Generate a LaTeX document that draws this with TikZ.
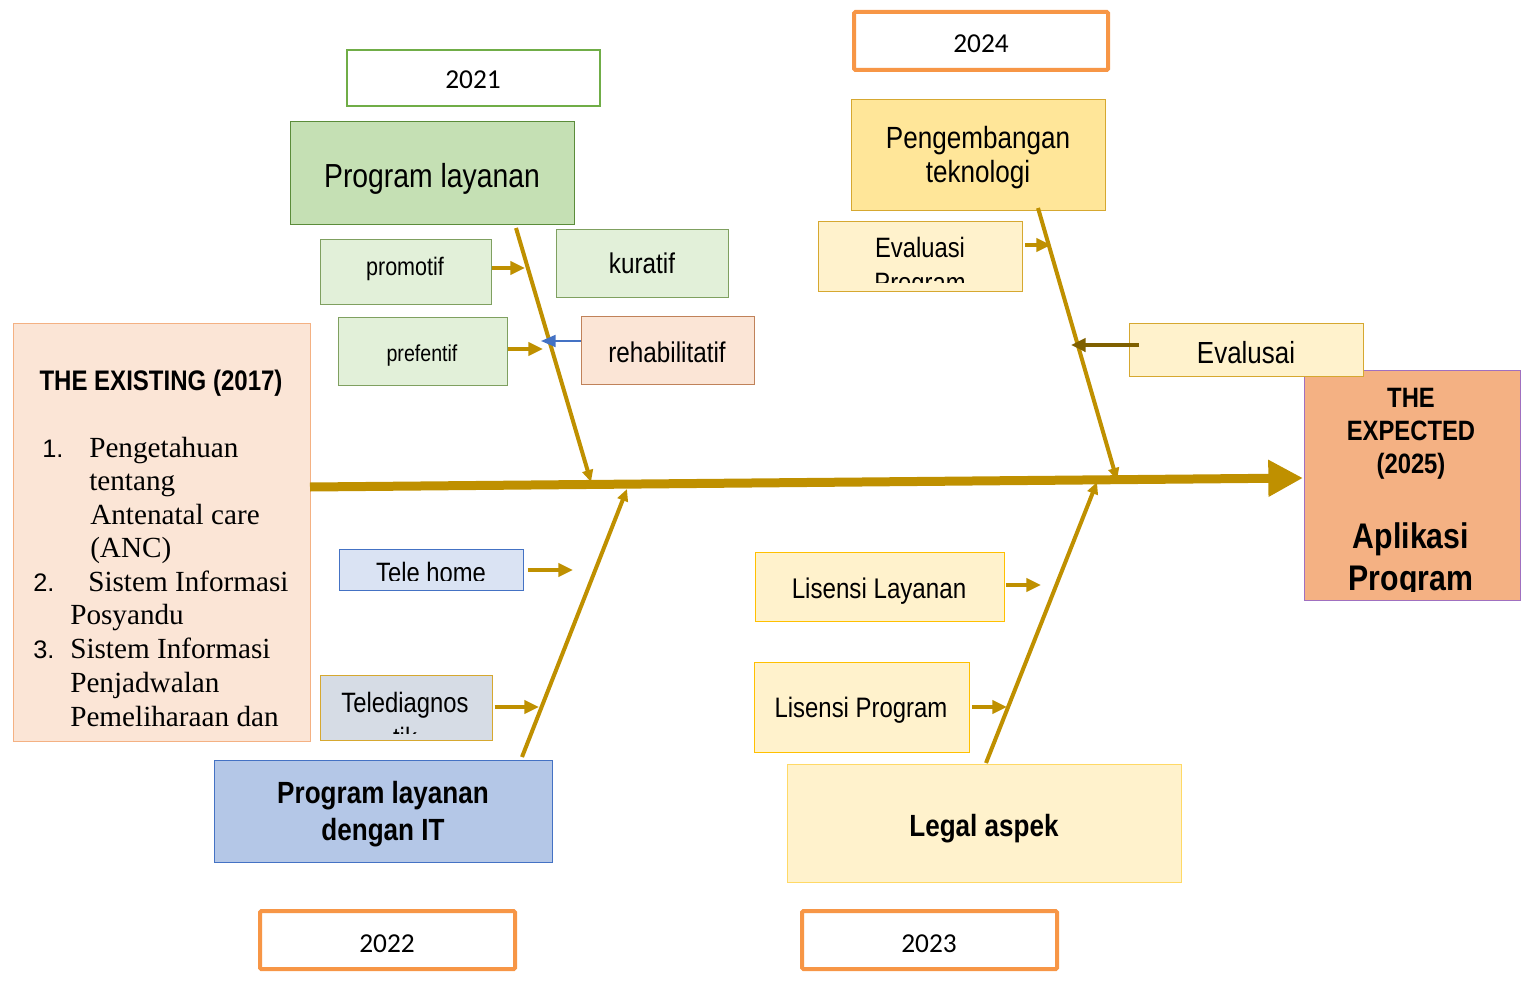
\documentclass[tikz,border=0pt]{standalone}
\usepackage{fontspec}
\setmainfont{Liberation Serif}
\setsansfont{Liberation Sans}
\newfontfamily\narfont[FakeStretch=0.85]{Liberation Sans}
\newfontfamily\carlfont{Carlito}
\usetikzlibrary{arrows.meta,fit}
\newcommand\myfs[2]{\fontsize{#1pt}{#2pt}\selectfont}
\definecolor{gold}{HTML}{BF9000}
\definecolor{darkgold}{HTML}{7F6000}
\definecolor{yrorange}{HTML}{F79646}
\definecolor{yrgreen}{HTML}{70AD47}
\definecolor{greenA}{HTML}{C5E0B4}
\definecolor{greenB}{HTML}{E2F0D9}
\definecolor{greenline}{HTML}{5B8C3A}
\definecolor{greenline2}{HTML}{7FA060}
\definecolor{peach}{HTML}{FBE5D6}
\definecolor{peachline}{HTML}{C0825A}
\definecolor{existline}{HTML}{F4B183}
\definecolor{salmon}{HTML}{F4B183}
\definecolor{purpleline}{HTML}{A070C0}
\definecolor{yelA}{HTML}{FFE699}
\definecolor{yelB}{HTML}{FFF2CC}
\definecolor{yelline}{HTML}{D6A830}
\definecolor{yelline2}{HTML}{FFC000}
\definecolor{yelline3}{HTML}{FFD966}
\definecolor{blueA}{HTML}{B4C7E7}
\definecolor{blueB}{HTML}{DAE3F3}
\definecolor{blueC}{HTML}{D6DCE5}
\definecolor{blueline}{HTML}{4472C4}
\begin{document}
\begin{tikzpicture}[x=0.75pt,y=-0.75pt,
  box/.style={draw, inner sep=0pt, line width=0.75pt},
  yearbox/.style={draw=yrorange, line width=3pt, rounded corners=1pt, inner sep=0pt, fill=white},
  yr/.style={font=\carlfont\myfs{20.5}{24}, anchor=base, inner sep=0pt},
  bone/.style={draw=gold, line width=3pt, -{Triangle[length=9pt,width=8pt]}},
  twig/.style={draw=gold, line width=2.4pt, -{Triangle[length=11pt,width=10pt]}},
  nar/.style={font=\narfont\myfs{#1}{#1}, anchor=base, inner sep=0pt},
  narb/.style={font=\narfont\bfseries\myfs{#1}{#1}, anchor=base, inner sep=0pt},
  ser/.style={font=\rmfamily\myfs{21.9}{25}, anchor=base west, inner sep=0pt},
  num/.style={font=\sffamily\myfs{19}{22}, anchor=base west, inner sep=0pt}
]
\useasboundingbox (0,0) rectangle (1532,981);

% year boxes
\node[box, draw=yrgreen, line width=1.6pt, fill=white, fit={(347,50)(600,106)}] (y21) {};
\node[yr] (y21t) at (473,89) {2021};
\node[yearbox, fit={(854,12)(1108,70)}] (y24) {};
\node[yr] (y24t) at (981,53) {2024};
\node[yearbox, fit={(260,911)(515,969)}] (y22) {};
\node[yr] (y22t) at (387,952) {2022};
\node[yearbox, fit={(802,911)(1057,969)}] (y23) {};
\node[yr] (y23t) at (929,952) {2023};

% existing box
\node[box, fill=peach, draw=existline, fit={(13,323)(310,741)}] (exist) {};
\node[narb=21.2] (exh) at (161,390) {THE EXISTING (2017)};
\node[num] (n1) at (42,457) {1.};
\node[ser] (e1) at (89,457) {Pengetahuan};
\node[ser] (e2) at (89,490) {tentang};
\node[ser] (e3) at (90,524) {Antenatal care};
\node[ser] (e4) at (90,557) {(ANC)};
\node[num] (n2) at (33,591) {2.};
\node[ser] (e5) at (88,591) {Sistem Informasi};
\node[ser] (e6) at (70,624) {Posyandu};
\node[num] (n3) at (33,658) {3.};
\node[ser] (e7) at (70,658) {Sistem Informasi};
\node[ser] (e8) at (70,692) {Penjadwalan};
\node[ser] (e9) at (70,726) {Pemeliharaan dan};

% expected box
\node[box, fill=salmon, draw=purpleline, fit={(1304,370)(1520,600)}] (expect) {};
\node[narb=21] (exp1) at (1411,407) {THE};
\node[narb=21] (exp2) at (1411,440) {EXPECTED};
\node[narb=21] (exp3) at (1411,473) {(2025)};
\node[narb=26.7] (apl1) at (1411,548) {Aplikasi};
\begin{scope}
  \clip (1304,370) rectangle (1520,591);
  \node[narb=26.7] (apl2) at (1411,590) {Program};
\end{scope}

% 2021 group
\node[box, fill=greenA, draw=greenline, fit={(290,122)(574,224)}] (prog) {};
\node[nar=25] (progt) at (432,187) {Program layanan};
\node[box, fill=greenB, draw=greenline2, fit={(320,239)(491,304)}] (promo) {};
\node[nar=19] (promot) at (405,275) {promotif};
\node[box, fill=greenB, draw=greenline2, fit={(556,229)(728,297)}] (kura) {};
\node[nar=21.4] (kurat) at (642,273) {kuratif};
\node[box, fill=greenB, draw=greenline2, fit={(338,317)(507,385)}] (pref) {};
\node[nar=17.3] (preft) at (422,361) {prefentif};
\node[box, fill=peach, draw=peachline, fit={(581,316)(754,384)}] (rehab) {};
\node[nar=21.4] (rehabt) at (667,362) {rehabilitatif};

% 2024 group
\node[box, fill=yelA, draw=yelline, fit={(851,100)(1105,210)}] (peng) {};
\node[nar=23] (peng1) at (978,148) {Pengembangan};
\node[nar=23] (peng2) at (978,182) {teknologi};
\node[box, fill=yelB, draw=yelline, fit={(818,221)(1022,291)}] (evp) {};
\node[nar=21] (evp1) at (920,257) {Evaluasi};
\begin{scope}
  \clip (818,221) rectangle (1022,282);
  \node[nar=21] (evp2) at (920,292) {Program};
\end{scope}
\node[box, fill=yelB, draw=yelline, fit={(1129,323)(1363,376)}] (evs) {};
\node[nar=22.9] (evst) at (1246,363) {Evalusai};

% 2022 group
\node[box, fill=blueB, draw=blueline, fit={(339,549)(523,590)}] (thome) {};
\begin{scope}
  \clip (339,549) rectangle (523,580);
  \node[nar=21] (thomet) at (431,582) {Tele home};
\end{scope}
\node[box, fill=blueC, draw=yelline, fit={(320,675)(492,740)}] (tdiag) {};
\node[nar=21] (tdiag1) at (405,712) {Telediagnos};
\begin{scope}
  \clip (320,675) rectangle (492,733);
  \node[nar=21] (tdiag2) at (405,747) {tik};
\end{scope}
\node[box, fill=blueA, draw=blueline, fit={(214,760)(552,862)}] (progit) {};
\node[narb=23] (progit1) at (383,803) {Program layanan};
\node[narb=23] (progit2) at (383,840) {dengan IT};

% 2023 group
\node[box, fill=yelB, draw=yelline2, fit={(755,552)(1004,621)}] (lisl) {};
\node[nar=21.3] (lislt) at (879,598) {Lisensi Layanan};
\node[box, fill=yelB, draw=yelline2, fit={(754,662)(969,752)}] (lisp) {};
\node[nar=21.1] (lispt) at (861,717) {Lisensi Program};
\node[box, fill=yelB, draw=yelline3, fit={(787,764)(1181,882)}] (legal) {};
\node[narb=23] (legalt) at (984,836) {Legal aspek};

% spine
\coordinate (sp0) at (310,487);
\coordinate (sp1) at (1303,478);
\draw[gold, line width=6.75pt, -{Triangle[length=26pt,width=26pt]}] (sp0) -- (sp1);

% bones
\coordinate (b1s) at (516,228); \coordinate (b1e) at (591,482);
\coordinate (b2s) at (522,757); \coordinate (b2e) at (627,489);
\coordinate (b3s) at (1038,208); \coordinate (b3e) at (1117,480);
\coordinate (b4s) at (986,763); \coordinate (b4e) at (1097,482);
\draw[bone] (b1s) -- (b1e);
\draw[bone] (b2s) -- (b2e);
\draw[bone] (b3s) -- (b3e);
\draw[bone] (b4s) -- (b4e);

% twigs
\coordinate (t1) at (525,268);
\draw[twig] (promo.east |- t1) -- (t1);
\coordinate (t2) at (543,349);
\draw[twig] (pref.east |- t2) -- (t2);
\coordinate (t3) at (541,341);
\draw[draw=blueline, line width=1.4pt, -{Triangle[length=11pt,width=9pt]}] (rehab.west |- t3) -- (t3);
\coordinate (t4) at (1051,245);
\draw[twig, shorten <=2pt] (evp.east |- t4) -- (t4);
\coordinate (t5) at (1071,345);
\draw[draw=darkgold, line width=2.6pt, -{Triangle[length=11pt,width=10pt]}] ([xshift=8pt]evs.west |- t5) -- (t5);
\coordinate (t6) at (573,570);
\draw[twig, shorten <=3pt] (thome.east |- t6) -- (t6);
\coordinate (t7) at (539,707);
\draw[twig, shorten <=1.5pt] (tdiag.east |- t7) -- (t7);
\coordinate (t8) at (1041,585);
\draw[twig, shorten <=1pt] (lisl.east |- t8) -- (t8);
\coordinate (t9) at (1007,707);
\draw[twig, shorten <=2pt] (lisp.east |- t9) -- (t9);
\end{tikzpicture}
\end{document}
